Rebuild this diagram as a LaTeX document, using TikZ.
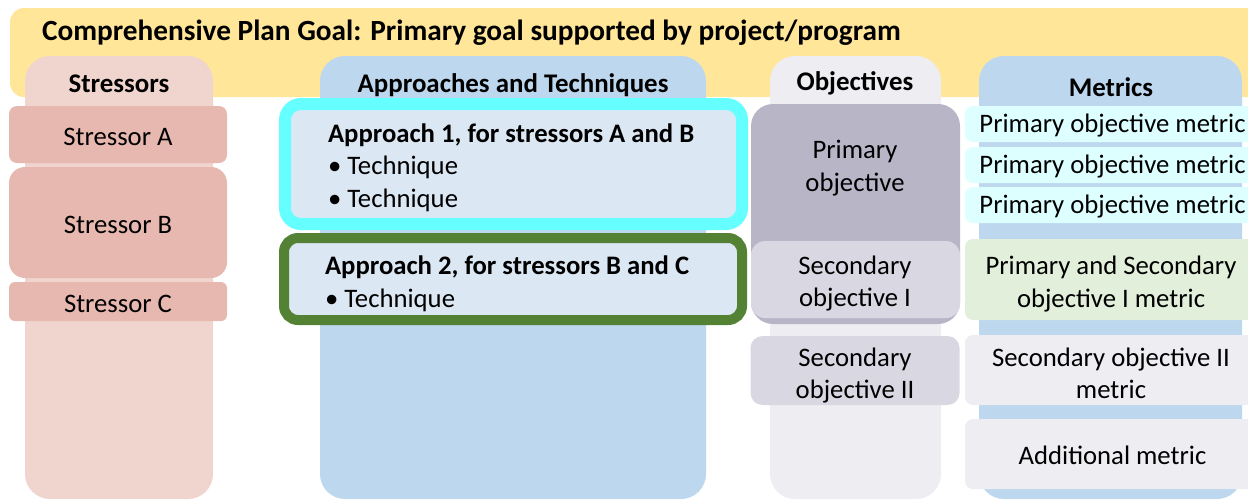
\documentclass[tikz,border=0pt]{standalone}
\usepackage{fontspec}
\setmainfont{Carlito}
\definecolor{goalc}{HTML}{FFE699}
\definecolor{strcol}{HTML}{F0D4CE}
\definecolor{strbox}{HTML}{E6B8AF}
\definecolor{bluecol}{HTML}{BDD7EE}
\definecolor{apfill}{HTML}{DCE7F4}
\definecolor{cyanc}{HTML}{66FFFF}
\definecolor{greenc}{HTML}{548235}
\definecolor{objcol}{HTML}{EDEDF2}
\definecolor{primc}{HTML}{B8B5C7}
\definecolor{secc}{HTML}{D9D8E2}
\definecolor{pmet}{HTML}{DDFFFF}
\definecolor{psmet}{HTML}{E2EFDA}
\begin{document}
\begin{tikzpicture}[x=1pt,y=-1pt,
  every node/.style={font=\fontsize{26.7}{32.5}\selectfont, inner sep=0pt, outer sep=0pt},
  one/.style={text height=22pt},
  hdr/.style={one, font=\fontsize{26.9}{32}\selectfont\bfseries},
  column/.style={rounded corners=25pt},
  sbox/.style={one, fill=strbox, minimum width=218pt},
  obox/.style={fill=secc, minimum width=209pt},
  mbox/.style={minimum width=295pt, rounded corners=8pt},
  multi/.style={align=center, yshift=-2.5pt},
  abox/.style={fill=apfill}
]
\useasboundingbox (0,0) rectangle (1248,499);
\clip (0,0) rectangle (1248,499);
% goal band
\fill[goalc, rounded corners=14pt] (10,8) rectangle (1280,97);
\node[font=\fontsize{29.3}{34}\selectfont\bfseries, text height=24pt, anchor=west] (title) at (42,31) {Comprehensive Plan Goal: Primary goal supported by project/program};
% columns
\fill[strcol, column] (25,56) rectangle (213,499);
\fill[bluecol, column] (320,56) rectangle (706,499);
\fill[objcol, column] (770,56) rectangle (941,499);
\fill[bluecol, column] (979,56) rectangle (1242,499);
\node[hdr] (hstr) at (119,82) {Stressors};
\node[hdr] (happ) at (513,84) {Approaches and Techniques};
\node[hdr] (hobj) at (855,82) {Objectives};
\node[hdr] (hmet) at (1111,86) {Metrics};
% stressors
\node[sbox, minimum height=57pt, rounded corners=8pt] (sA) at (118,134.5) {Stressor A};
\node[sbox, minimum height=111pt, rounded corners=16pt] (sB) at (118,222.5) {Stressor B};
\node[sbox, minimum height=39pt, rounded corners=6pt] (sC) at (118,301.5) {Stressor C};
% approaches
\node[abox, draw=cyanc, line width=12pt, rounded corners=16pt, minimum width=457pt, minimum height=120pt] (ap1) at (513.5,164) {};
\node[anchor=west, align=left, yshift=-2.5pt] (ap1t) at (328,165) {\textbf{Approach 1, for stressors A and B}\\\textbullet\ Technique\\\textbullet\ Technique};
\node[abox, draw=greenc, line width=10pt, rounded corners=14pt, minimum width=458pt, minimum height=82pt] (ap2) at (513,279) {};
\node[anchor=west, align=left, yshift=-2.5pt] (ap2t) at (325,281.5) {\textbf{Approach 2, for stressors B and C}\\\textbullet\ Technique};
% objectives
\node[fill=primc, minimum width=209pt, minimum height=220pt, rounded corners=22pt] (po) at (855.5,214) {};
\node[multi] (pot) at (855,165.5) {Primary\\objective};
\node[obox, minimum height=77pt, rounded corners=14pt] (so1) at (855.5,279.5) {};
\node[multi] (so1t) at (855,281) {Secondary\\objective I};
\node[obox, minimum height=69pt, rounded corners=12pt] (so2) at (855,370.5) {};
\node[multi] (so2t) at (855,373) {Secondary\\objective II};
% metrics
\node[mbox, one, fill=pmet, minimum height=36pt] (m1) at (1112.5,124) {Primary objective metric};
\node[mbox, one, fill=pmet, minimum height=36pt] (m2) at (1112.5,165) {Primary objective metric};
\node[mbox, one, fill=pmet, minimum height=36pt] (m3) at (1112.5,205) {Primary objective metric};
\node[mbox, fill=psmet, minimum height=81pt] (m4) at (1112.5,279.5) {};
\node[multi] (m4t) at (1111,281.5) {Primary and Secondary\\objective I metric};
\node[mbox, fill=objcol, minimum height=70pt] (m5) at (1112.5,370) {};
\node[multi] (m5t) at (1111,371) {Secondary objective II\\metric};
\node[mbox, one, fill=objcol, minimum height=70pt] (m6) at (1112.5,454) {Additional metric};
\end{tikzpicture}
\end{document}
